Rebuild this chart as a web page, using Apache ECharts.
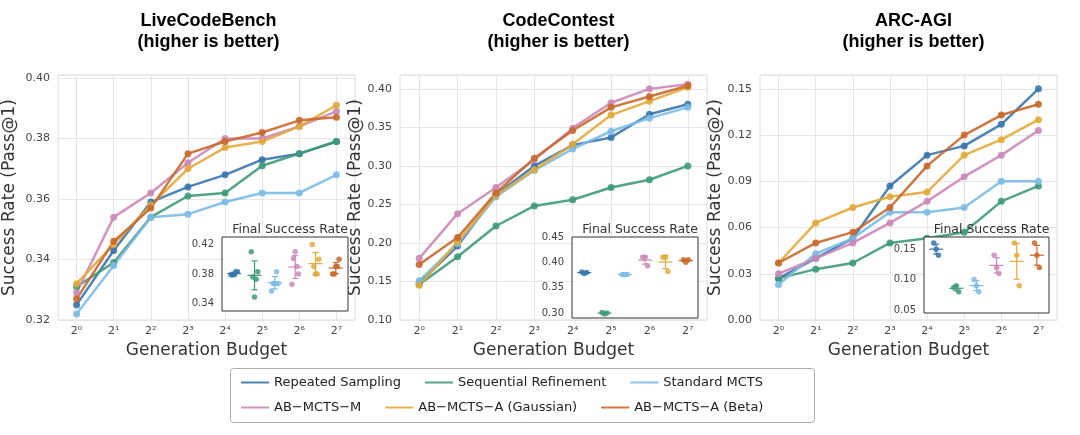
<!DOCTYPE html>
<html>
<head>
<meta charset="UTF-8" />
<script src="https://cdn.jsdelivr.net/npm/echarts@6/dist/echarts.min.js"></script>
<style>
  body { margin: 0; background: #fff; }
  #container { width: 1080px; height: 435px; }
</style>
</head>
<body>
<div id="container"></div>
<script>
  var chart = echarts.init(document.getElementById("container"));

  const budgets = ["2⁰", "2¹", "2²", "2³", "2⁴", "2⁵", "2⁶", "2⁷"];
  const methods = ["Repeated Sampling", "Sequential Refinement", "Standard MCTS",
                   "AB−MCTS−M", "AB−MCTS−A (Gaussian)", "AB−MCTS−A (Beta)"];
  const colors = ["#3a75ad", "#3e9a78", "#7cbbe6", "#cc88b8", "#e2aa3a", "#c9682c"];

  // main curves
  const lcb = [
    [0.325, 0.343, 0.359, 0.364, 0.368, 0.373, 0.375, 0.379],
    [0.331, 0.339, 0.354, 0.361, 0.362, 0.371, 0.375, 0.379],
    [0.322, 0.338, 0.354, 0.355, 0.359, 0.362, 0.362, 0.368],
    [0.329, 0.354, 0.362, 0.372, 0.380, 0.380, 0.384, 0.389],
    [0.332, 0.345, 0.358, 0.370, 0.377, 0.379, 0.384, 0.391],
    [0.327, 0.346, 0.357, 0.375, 0.379, 0.382, 0.386, 0.387],
  ];
  const cc = [
    [0.148, 0.196, 0.263, 0.300, 0.327, 0.337, 0.367, 0.380],
    [0.146, 0.182, 0.222, 0.248, 0.256, 0.272, 0.282, 0.300],
    [0.151, 0.199, 0.260, 0.294, 0.322, 0.345, 0.362, 0.376],
    [0.180, 0.238, 0.272, 0.308, 0.349, 0.382, 0.400, 0.406],
    [0.145, 0.201, 0.262, 0.295, 0.328, 0.366, 0.384, 0.402],
    [0.172, 0.207, 0.265, 0.310, 0.346, 0.376, 0.390, 0.404],
  ];
  const arc = [
    [0.027, 0.040, 0.053, 0.087, 0.107, 0.113, 0.127, 0.150],
    [0.027, 0.033, 0.037, 0.050, 0.053, 0.057, 0.077, 0.087],
    [0.023, 0.043, 0.053, 0.070, 0.070, 0.073, 0.090, 0.090],
    [0.030, 0.040, 0.050, 0.063, 0.077, 0.093, 0.107, 0.123],
    [0.037, 0.063, 0.073, 0.080, 0.083, 0.107, 0.117, 0.130],
    [0.037, 0.050, 0.057, 0.073, 0.100, 0.120, 0.133, 0.140],
  ];

  // final success rate per run (insets)
  const lcbRuns = [
    [0.379, 0.379, 0.379, 0.383, 0.383],
    [0.410, 0.376, 0.349, 0.373, 0.383],
    [0.357, 0.367, 0.367, 0.383, 0.367],
    [0.366, 0.401, 0.410, 0.390, 0.380],
    [0.420, 0.390, 0.380, 0.380, 0.400],
    [0.380, 0.380, 0.390, 0.390, 0.400],
  ];
  const ccRuns = [
    [0.381, 0.378, 0.380],
    [0.301, 0.298, 0.300],
    [0.376, 0.376, 0.376],
    [0.410, 0.410, 0.393],
    [0.410, 0.410, 0.382],
    [0.405, 0.400, 0.405],
  ];
  const arcRuns = [
    [0.160, 0.150, 0.140],
    [0.087, 0.090, 0.080],
    [0.100, 0.090, 0.080],
    [0.140, 0.120, 0.110],
    [0.160, 0.140, 0.090],
    [0.160, 0.140, 0.120],
  ];
  const jitter5 = [-0.16, -0.08, 0, 0.08, 0.16];
  const jitter3 = [-0.12, 0, 0.12];

  const panels = [
    { title: "LiveCodeBench\n(higher is better)", data: lcb, runs: lcbRuns, yName: "Success Rate (Pass@1)",
      left: 52, width: 303, min: 0.32, max: 0.401, interval: 0.02, nameGap: 40,
      inset: { left: 222, top: 237, width: 126, height: 74, min: 0.33, max: 0.43, step: 0.01, labels: [0.34, 0.38, 0.42] } },
    { title: "CodeContest\n(higher is better)", data: cc, runs: ccRuns, yName: "Success Rate (Pass@1)",
      left: 400, width: 307, min: 0.10, max: 0.418, interval: 0.05, nameGap: 34,
      inset: { left: 572, top: 237, width: 126, height: 81, min: 0.29, max: 0.45, step: 0.01, labels: [0.30, 0.35, 0.40, 0.45] } },
    { title: "ARC-AGI\n(higher is better)", data: arc, runs: arcRuns, yName: "Success Rate (Pass@2)",
      left: 760, width: 297, min: 0, max: 0.159, interval: 0.03, nameGap: 32,
      inset: { left: 924, top: 237, width: 125, height: 76, min: 0.045, max: 0.17, step: 0.005, labels: [0.05, 0.10, 0.15] } },
  ];

  const grid = [], xAxis = [], yAxis = [], series = [], title = [];
  const axisText = { color: "#444", fontSize: 11, fontFamily: "DejaVu Sans" };

  panels.forEach((p, pi) => {
    const g = pi * 2;
    grid.push({ left: p.left, width: p.width, top: 75, bottom: 115, show: true,
                borderColor: "#dddddd", borderWidth: 1 });
    grid.push({ left: p.inset.left, width: p.inset.width, top: p.inset.top, height: p.inset.height,
                show: true, backgroundColor: "#fff", borderColor: "#333", borderWidth: 1, z: 5 });
    title.push({ text: p.title, left: p.left + p.width / 2, top: 6, textAlign: "center",
                 textStyle: { fontSize: 18, fontWeight: "bold", fontFamily: "Liberation Sans", lineHeight: 21, color: "#000" } });
    title.push({ text: "Final Success Rate", left: p.inset.left + p.inset.width / 2, top: p.inset.top - 19,
                 textAlign: "center", textStyle: { fontSize: 12.5, fontWeight: "normal", fontFamily: "DejaVu Sans", color: "#333" } });

    xAxis.push({ type: "category", gridIndex: g, data: budgets, boundaryGap: true,
                 name: "Generation Budget", nameLocation: "middle", nameGap: 22,
                 nameTextStyle: { fontSize: 17, color: "#333", fontFamily: "DejaVu Sans" },
                 axisLine: { show: false }, axisTick: { show: false },
                 axisLabel: Object.assign({ margin: 6 }, axisText),
                 splitLine: { show: false } });
    yAxis.push({ type: "value", gridIndex: g, min: p.min, max: p.max, interval: p.interval,
                 name: p.yName, nameLocation: "middle", nameGap: p.nameGap,
                 nameTextStyle: { fontSize: 17, color: "#333", fontFamily: "DejaVu Sans" },
                 axisLine: { show: false }, axisTick: { show: false },
                 axisLabel: Object.assign({ formatter: v => v.toFixed(2), showMaxLabel: false }, axisText),
                 splitLine: { lineStyle: { color: "#e6e6e6" } } });
    xAxis.push({ type: "value", gridIndex: g + 1, min: -0.6, max: 5.6, show: false });
    yAxis.push({ type: "value", gridIndex: g + 1, min: p.inset.min, max: p.inset.max, interval: p.inset.step,
                 axisLine: { show: false }, axisTick: { show: false },
                 axisLabel: Object.assign({ showMinLabel: true, showMaxLabel: true, formatter: v => {
                   const hit = p.inset.labels.find(l => Math.abs(l - v) < 1e-6);
                   return hit === undefined ? "" : hit.toFixed(2);
                 } }, axisText, { fontSize: 10 }),
                 splitLine: { show: false } });

    p.data.forEach((vals, mi) => {
      const s = { name: methods[mi], type: "line", xAxisIndex: g, yAxisIndex: g, data: vals,
                  symbol: "circle", symbolSize: 7, color: colors[mi],
                  lineStyle: { width: 2.5, opacity: 0.9 }, itemStyle: { opacity: 0.9 } };
      if (mi === 0) {
        s.markLine = { silent: true, symbol: "none", label: { show: false }, z: 0,
                       lineStyle: { color: "#e6e6e6", type: "solid", width: 1 },
                       data: budgets.map((b, i) => ({ xAxis: i })) };
      }
      series.push(s);
    });

    const pts = [], bars = [];
    p.runs.forEach((runs, mi) => {
      const jit = runs.length === 5 ? jitter5 : jitter3;
      runs.forEach((v, k) => pts.push({ value: [mi + jit[k], v], itemStyle: { color: colors[mi] } }));
      const mean = runs.reduce((a, b) => a + b, 0) / runs.length;
      const sd = Math.sqrt(runs.reduce((a, b) => a + (b - mean) * (b - mean), 0) / runs.length);
      bars.push([mi, mean, sd]);
    });
    series.push({ type: "scatter", xAxisIndex: g + 1, yAxisIndex: g + 1, data: pts, symbolSize: 5.5, z: 6,
                  itemStyle: { opacity: 0.85 }, silent: true });
    series.push({ type: "custom", xAxisIndex: g + 1, yAxisIndex: g + 1, data: bars, z: 7, silent: true,
      renderItem: (params, api) => {
        const mi = api.value(0), mean = api.value(1), sd = api.value(2);
        const top = api.coord([mi, mean + sd]), bot = api.coord([mi, mean - sd]), mid = api.coord([mi, mean]);
        const col = colors[mi], st = { stroke: col, lineWidth: 1.2 };
        return { type: "group", children: [
          { type: "line", shape: { x1: top[0], y1: top[1], x2: bot[0], y2: bot[1] }, style: st },
          { type: "line", shape: { x1: top[0] - 3, y1: top[1], x2: top[0] + 3, y2: top[1] }, style: st },
          { type: "line", shape: { x1: bot[0] - 3, y1: bot[1], x2: bot[0] + 3, y2: bot[1] }, style: st },
          { type: "line", shape: { x1: mid[0] - 7, y1: mid[1], x2: mid[0] + 7, y2: mid[1] }, style: st },
        ] };
      } });
  });

  const legendBase = { left: 236, itemGap: 24, itemWidth: 28, itemHeight: 10, orient: "horizontal",
                       textStyle: { fontSize: 13, color: "#222", fontFamily: "DejaVu Sans", width: 150 },
                       icon: "path://M0,4L28,4L28,6L0,6Z" };

  const option = {
    animation: false,
    title: title,
    grid: grid,
    xAxis: xAxis,
    yAxis: yAxis,
    graphic: [{ type: "rect", left: 228, top: 366, shape: { width: 584, height: 54, r: 3 },
                style: { fill: "none", stroke: "#aaa", lineWidth: 1 } }],
    legend: [
      Object.assign({ data: methods.slice(0, 3), top: 371 }, legendBase),
      Object.assign({ data: methods.slice(3), top: 396 }, legendBase),
    ],
    series: series,
  };
  chart.setOption(option);
</script>
</body>
</html>
